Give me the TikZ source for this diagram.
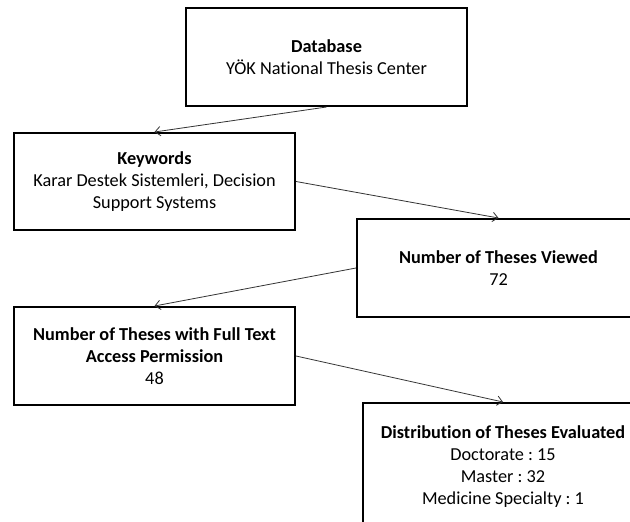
\documentclass[tikz,border=0pt]{standalone}
\usepackage{fontspec}
\setmainfont{Carlito}[Ligatures=NoCommon]
\usetikzlibrary{arrows.meta}
\frenchspacing
\begin{document}
\begin{tikzpicture}[x=0.75pt,y=-0.75pt,
  box/.style={draw=black,line width=1.5pt,rectangle,inner sep=0pt,align=center,
    font=\fontsize{13.7}{16.6}\selectfont},
  conn/.style={draw=black!80,line width=0.6pt,-{Straight Barb[length=4pt,width=7pt,line width=0.6pt]}}]
\useasboundingbox (0,0) rectangle (630,521);
\clip (0,0) rectangle (630,521);
\fill[white] (0,0) rectangle (630,521);
\node[box,minimum width=281*0.75pt,minimum height=98*0.75pt] (db) at (326.5,57)
  {\textbf{Database}\\YÖK National Thesis Center};
\node[box,minimum width=281*0.75pt,minimum height=97*0.75pt] (kw) at (154.5,181.5)
  {\textbf{Keywords}\\Karar Destek Sistemleri, Decision\\Support Systems};
\node[box,minimum width=283*0.75pt,minimum height=98*0.75pt] (vw) at (498.5,268)
  {\textbf{Number of Theses Viewed}\\72};
\node[box,minimum width=281*0.75pt,minimum height=98*0.75pt] (ft) at (154.5,356)
  {\textbf{Number of Theses with Full Text}\\\textbf{Access Permission}\\48};
\node[box,minimum width=280*0.75pt,minimum height=127*0.75pt] (ds) at (503,466.5)
  {\textbf{Distribution of Theses Evaluated}\\Doctorate : 15\\Master : 32\\Medicine Specialty : 1};
\draw[conn] (db.south) -- (kw.north);
\draw[conn] (kw.east) -- (vw.north);
\draw[conn] (vw.west) -- (ft.north);
\draw[conn] (ft.east) -- (ds.north);
\end{tikzpicture}
\end{document}
